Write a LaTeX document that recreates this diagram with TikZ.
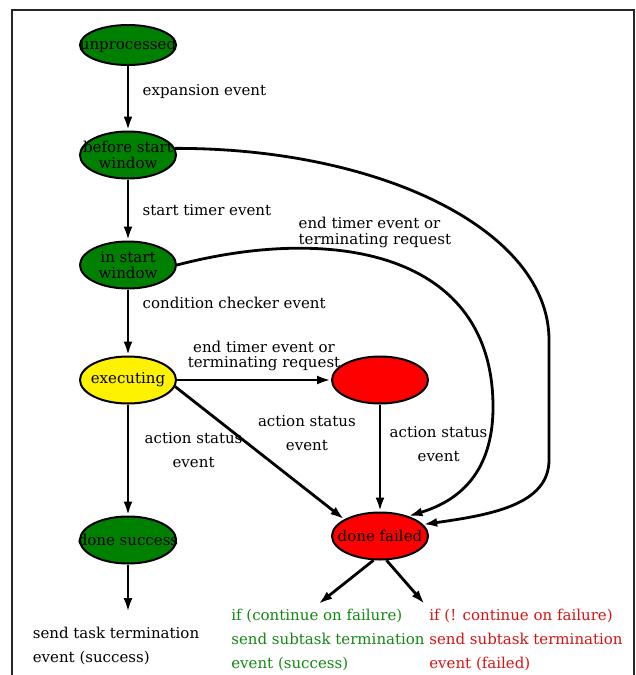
\documentclass[tikz,border=0pt]{standalone}
\usepackage{fontspec}
\setmainfont{DejaVu Serif}
\usetikzlibrary{arrows.meta, shapes.geometric}

\definecolor{stategreen}{RGB}{0,128,0}
\definecolor{okgreen}{RGB}{20,135,20}
\definecolor{failred}{RGB}{215,20,20}

\begin{document}
\begin{tikzpicture}[
    x = 1pt, y = -1pt,
    node distance = 110pt,
    line width = 2.8pt,
    > = {Latex[length=14pt, width=9pt]},
    font = \fontsize{15}{15.5}\selectfont,
    main/.style = {draw, ellipse, line width=2pt, align=center,
        minimum width=96pt, minimum height=47pt, inner xsep=-20pt, inner ysep=0pt},
    msg/.style = {align=left, anchor=north}
]

% Frame
\useasboundingbox (0,0) rectangle (636,675);
\draw[line width=1.5pt, black!85] (12,675) -- (12,10) -- (634,10) -- (634,675);

% States
\node[main, fill=stategreen, minimum height=40pt] (1) at (128,45) {unprocessed};
\node[main, fill=stategreen] (2) [below of=1] {before start\\window};
\node[main, fill=stategreen] (3) [below of=2] {in start\\window};
\node[main, fill=yellow]     (4) [below of=3, node distance=115pt] {executing};
\node[main, fill=red]        (5) [right of=4, node distance=252pt] {};
\node[main, fill=stategreen] (6) [below of=4, node distance=160pt] {done success};
\node[main, fill=red]        (7) [below of=5, node distance=156pt] {done failed};

% Messages
\node[msg] (8) at (116,622) {send task termination\\[8.5pt]event (success)};
\node[msg, text=okgreen] (9) at (328,604)
    {if (continue on failure)\\[8.5pt]send subtask termination\\[8.5pt]event (success)};
\node[msg, text=failred] (10) at (526,604)
    {if (! continue on failure)\\[8.5pt]send subtask termination\\[8.5pt]event (failed)};

% Main line
\draw[->] (1) -- node[right, xshift=10pt, pos=.4] {expansion event} (2);
\draw[->] (2) -- node[right, xshift=10pt] {start timer event} (3);
\draw[->] (3) -- node[right, xshift=10pt, pos=.2] {condition checker event} (4);
\draw[->] (4) -- node[right, xshift=12pt, pos=.41, align=center] {action status\\[8.5pt]event} (6);

% Failure paths
\draw[->] (4) -- node[above, xshift=10pt, yshift=4pt, align=center]
    {end timer event or\\terminating request} (5);
\draw[->] (4.-8) -- node[pos=.35, right, xshift=19pt, align=center]
    {action status\\[8.5pt]event} (7.155);
\draw[->] (5) -- node[pos=.37, right, xshift=5pt, align=center]
    {action status\\[8.5pt]event} (7);

% Long curves
\draw[->] (3.east) .. controls (330,225) and (495,250) .. (493,410)
    node[pos=.42, above, xshift=12pt, yshift=2pt, align=left] {end timer event or\\terminating request}
    .. controls (492,470) and (462,500) .. (7.35);
\draw[->] (2.8) .. controls (380,148) and (549,230) .. (549,340) -- (549,460)
    .. controls (549,505) and (490,515) .. (7.15);

% Outputs
\draw[->, shorten >=10pt] (6) -- (6 |- 8.north);
\draw[->] (7.-105) -- (9.105);
\draw[->] (7.-75) -- (10.north west);

\end{tikzpicture}
\end{document}
